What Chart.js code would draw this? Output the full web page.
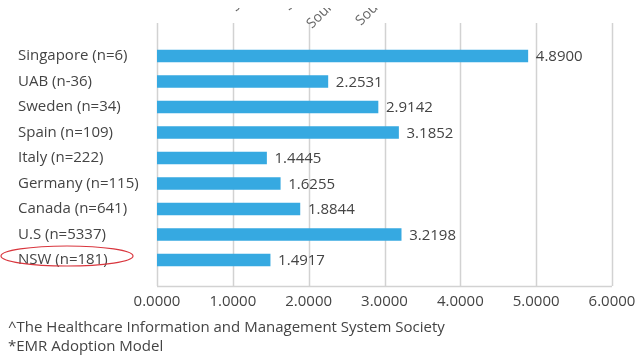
<!DOCTYPE html>
<html>
<head>
<meta charset="utf-8">
<script src="https://cdn.jsdelivr.net/npm/chart.js@4/dist/chart.umd.min.js"></script>
<style>
  html, body { margin: 0; padding: 0; background: #fff; }
  canvas { display: block; }
</style>
</head>
<body>
<canvas id="emr" width="637" height="360"></canvas>
<script>
// values
const categories = [
  "Singapore (n=6)",
  "UAB (n-36)",
  "Sweden (n=34)",
  "Spain (n=109)",
  "Italy (n=222)",
  "Germany (n=115)",
  "Canada (n=641)",
  "U.S (n=5337)",
  "NSW (n=181)",
];
const scores = [4.89, 2.2531, 2.9142, 3.1852, 1.4445, 1.6255, 1.8844, 3.2198, 1.4917];
const xTicks = [0, 1, 2, 3, 4, 5, 6];
const footnotes = [
  "^The Healthcare Information and Management System Society",
  "*EMR Adoption Model",
];
const headerWords = ["Source", "Source", "Source", "Source"];
const circled = "NSW (n=181)";

const FONT = "'Open Sans', 'Liberation Sans', sans-serif";
const TEXT = "#444";
const GRID = "#d2d2d2";

// vertical grid lines run past the bar area, like the original
const gridPlugin = {
  id: "gridLines",
  beforeDatasetsDraw(chart) {
    const xs = chart.scales.x;
    const ctx = chart.ctx;
    const top = 23, bottom = 286;
    ctx.save();
    ctx.strokeStyle = GRID;
    ctx.lineWidth = 1.5;
    xTicks.forEach((v) => {
      const x = Math.round(xs.getPixelForValue(v)) + 0.5;
      ctx.beginPath();
      ctx.moveTo(x, top);
      ctx.lineTo(x, bottom);
      ctx.stroke();
    });
    ctx.beginPath();
    ctx.moveTo(xs.getPixelForValue(xTicks[0]), bottom + 0.5);
    ctx.lineTo(xs.getPixelForValue(xTicks[xTicks.length - 1]), bottom + 0.5);
    ctx.stroke();
    ctx.restore();
  },
};

const valueLabels = {
  id: "valueLabels",
  afterDatasetsDraw(chart) {
    const ctx = chart.ctx;
    const meta = chart.getDatasetMeta(0);
    ctx.save();
    ctx.font = "15px " + FONT;
    ctx.fillStyle = TEXT;
    ctx.textAlign = "left";
    ctx.textBaseline = "middle";
    meta.data.forEach((bar, i) => {
      ctx.fillText(scores[i].toFixed(4), bar.x + 8, bar.y + 1);
    });
    ctx.restore();
  },
};

const extras = {
  id: "extras",
  afterDraw(chart) {
    const ctx = chart.ctx;
    const ys = chart.scales.y;
    ctx.save();

    // red ring around the NSW label
    const yc = ys.getPixelForValue(categories.indexOf(circled)) - 4;
    ctx.strokeStyle = "#d9363e";
    ctx.lineWidth = 1.2;
    ctx.beginPath();
    ctx.ellipse(67, yc, 66, 10, 0, 0, Math.PI * 2);
    ctx.stroke();

    // footnotes
    ctx.font = "15px " + FONT;
    ctx.fillStyle = TEXT;
    ctx.textAlign = "left";
    ctx.textBaseline = "middle";
    footnotes.forEach((t, i) => ctx.fillText(t, 8, 328 + i * 19));

    // cut-off rotated column headers at the top edge
    ctx.beginPath();
    ctx.rect(0, 8, chart.width, 30);
    ctx.clip();
    ctx.font = "14px " + FONT;
    ctx.fillStyle = "#666";
    ctx.textBaseline = "alphabetic";
    [[236, 12], [289, 11], [312, 29], [361, 26]].forEach(([x, y], i) => {
      ctx.save();
      ctx.translate(x, y);
      ctx.rotate(-Math.PI / 4);
      ctx.fillText(headerWords[i], 0, 0);
      ctx.restore();
    });
    ctx.restore();
  },
};

new Chart(document.getElementById("emr"), {
  type: "bar",
  data: {
    labels: categories,
    datasets: [
      {
        data: scores,
        backgroundColor: "#36a9e1",
        borderWidth: 0,
        barThickness: 12,
      },
    ],
  },
  options: {
    indexAxis: "y",
    responsive: false,
    animation: false,
    layout: { padding: { left: 18, right: 25, top: 43.25, bottom: 47.25 } },
    plugins: { legend: { display: false }, tooltip: { enabled: false } },
    scales: {
      x: {
        min: 0,
        max: 6,
        afterBuildTicks: (s) => { s.ticks = xTicks.map((v) => ({ value: v })); },
        afterFit: (s) => { s.height = 40; s.paddingLeft = 0; s.paddingRight = 0; },
        grid: { display: false, drawTicks: false },
        border: { display: false },
        ticks: {
          padding: 20,
          color: TEXT,
          font: { family: FONT, size: 15 },
          maxRotation: 0,
          callback: (v) => Number(v).toFixed(4),
        },
      },
      y: {
        afterFit: (s) => { s.width = 139; },
        grid: { display: false, drawTicks: false },
        border: { display: false },
        ticks: {
          crossAlign: "far",
          color: TEXT,
          font: { family: FONT, size: 15 },
        },
      },
    },
  },
  plugins: [gridPlugin, valueLabels, extras],
});
</script>
</body>
</html>
